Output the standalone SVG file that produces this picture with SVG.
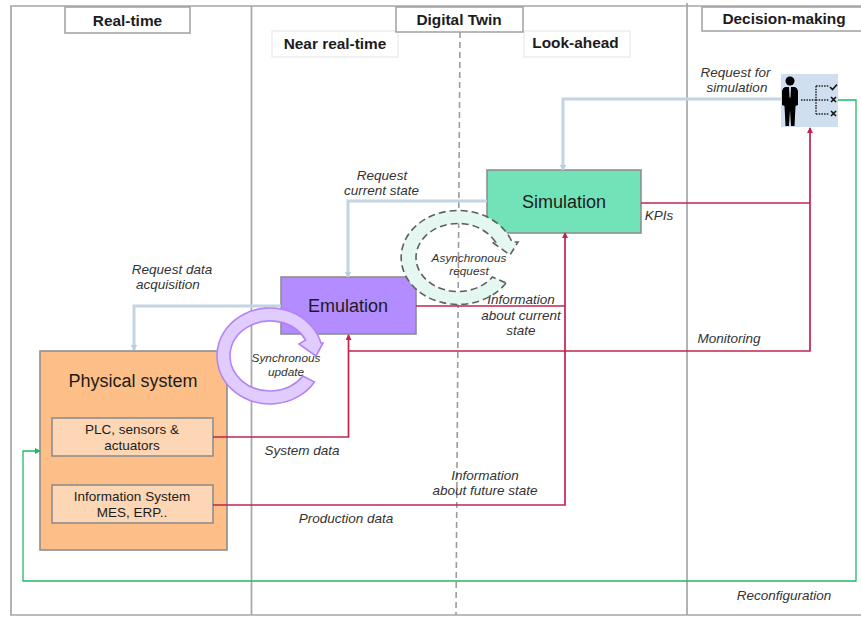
<svg xmlns="http://www.w3.org/2000/svg" width="861" height="617" viewBox="0 0 861 617">
<style>
text{font-family:"Liberation Sans",Arial,sans-serif;fill:#1c1c1c}
.h{font-size:15.4px;font-weight:bold;text-anchor:middle}
.lab{font-size:13.500px;font-style:italic;fill:#333;text-anchor:middle}
.sm{font-size:11.800px;font-style:italic;fill:#333;text-anchor:middle}
.big{font-size:18px;text-anchor:middle}
.mid{font-size:13.500px;text-anchor:middle}
.frame{stroke:#a6a6a6;stroke-width:1.7;fill:none}
.hb{fill:#fff;stroke:#a0a0a0;stroke-width:1.5}
.hl{fill:#fff;stroke:#e4e4e4;stroke-width:1}
.blue{fill:none;stroke:#c3d4e2;stroke-width:3}
.red{fill:none;stroke:#c0244f;stroke-width:1.7}
.grn{fill:none;stroke:#22b765;stroke-width:1.3}
.box{stroke:#8e8e8e;stroke-width:1.6}
</style>
<defs>
<marker id="ab" markerWidth="7" markerHeight="7" refX="5.500" refY="3.500" orient="auto" markerUnits="userSpaceOnUse"><path d="M0,0L6,3.500L0,7Z" fill="#b9cddd"/></marker>
<marker id="ar" markerWidth="7" markerHeight="7" refX="5" refY="3" orient="auto" markerUnits="userSpaceOnUse"><path d="M0,0L6,3L0,6Z" fill="#c0244f"/></marker>
<marker id="ag" markerWidth="7" markerHeight="7" refX="5" refY="3" orient="auto" markerUnits="userSpaceOnUse"><path d="M0,0L6,3L0,6Z" fill="#22b765"/></marker>
</defs>
<rect width="861" height="617" fill="#fff"/>
<g id="frame">
<path class="frame" d="M861,6H11V615H861"/>
<path class="frame" d="M251.500,6V615M687,3V615"/>
<path d="M460,32L456,615" fill="none" stroke="#9c9c9c" stroke-width="1.600" stroke-dasharray="6 4"/>
</g>
<g id="header-realtime"><rect class="hb" x="65" y="7" width="125" height="26"/><text class="h" x="127.500" y="26">Real-time</text></g>
<g id="header-near"><rect class="hl" x="272" y="31" width="126" height="26"/><text class="h" x="335" y="49">Near real-time</text></g>
<g id="header-look"><rect class="hl" x="524" y="31" width="106" height="26"/><text class="h" x="575.500" y="48">Look-ahead</text></g>
<g id="header-twin"><rect class="hb" x="396" y="7" width="127" height="25"/><text class="h" x="459" y="25">Digital Twin</text></g>
<g id="header-decision"><rect class="hb" x="702" y="7" width="160" height="24"/><text class="h" x="784" y="24">Decision-making</text></g>

<g id="simulation"><rect class="box" x="487" y="170" width="154" height="63" fill="#72e3b8"/><text class="big" x="564" y="208">Simulation</text></g>
<g id="emulation"><rect class="box" x="281" y="277" width="135" height="57" fill="#b38cff"/><text class="big" x="348" y="312">Emulation</text></g>
<g id="physical-system">
<rect class="box" x="40" y="351" width="187" height="199" fill="#fdbf87"/>
<text class="big" x="133" y="387">Physical system</text>
</g>
<g id="plc"><rect class="box" x="52" y="418" width="161" height="38" fill="#fdd7b5"/><text class="mid" x="132" y="434">PLC, sensors &amp;</text><text class="mid" x="132" y="450">actuators</text></g>
<g id="info-system"><rect class="box" x="52" y="485" width="161" height="38" fill="#fdd7b5"/><text class="mid" x="132" y="501">Information System</text><text class="mid" x="132" y="517">MES, ERP..</text></g>

<g id="connectors">
<path class="blue" marker-end="url(#ab)" d="M781,99H563V170"/>
<path class="blue" marker-end="url(#ab)" d="M487,201H348V277"/>
<path class="blue" marker-end="url(#ab)" d="M281,306H134V350"/>
<path class="red" d="M641,203H810"/>
<path class="red" marker-end="url(#ar)" d="M349,351H810V128"/>
<path class="red" marker-end="url(#ar)" d="M213,437H348.500V335"/>
<path class="red" d="M416,306H565"/>
<path class="red" marker-end="url(#ar)" d="M213,505H565V233"/>
<path class="grn" marker-end="url(#ag)" d="M835,100H856V581H23V451H40"/>
</g>

<g id="sync-update">
<path d="M314.500,382A53,48 0 1 1 321,343L323,343L316,356L299,344L305.600,340A40,35 0 1 0 302.800,376Z" fill="#e1ccff" stroke="#b483f5" stroke-width="1.600"/>
<text class="sm" x="286" y="362">Synchronous</text><text class="sm" x="286" y="376">update</text>
</g>
<g id="async-request">
<path d="M506,283A57,47 0 1 1 512,242L518,242L510,255L492,242L495.400,242A42,34 0 1 0 492.400,277Z" fill="#e4f7f1" stroke="#5f5f5f" stroke-width="1.600" stroke-dasharray="7 4"/>
<text class="sm" x="469" y="262">Asynchronous</text><text class="sm" x="469" y="275">request</text>
</g>

<g id="decision-icon">
<rect x="781" y="74" width="57" height="53" fill="#d0dfef"/>
<circle cx="790" cy="81" r="4.500" fill="#000"/>
<path d="M785,87H795Q797.500,88 798,91L798,105L795.500,106L794.500,126H791L790,110L789,126H785.500L784.500,106L782,105L782,91Q782.500,88 785,87Z" fill="#000"/>
<path d="M789,87H791L790.500,97L790,98L789.500,97Z" fill="#d0dfef"/>
<path d="M801,100H816M816,86V114M816,86H829M816,114H829M816,100H829" stroke="#222" stroke-width="1.500" stroke-dasharray="1.500 1.200" fill="none"/>
<path d="M830,87L832.500,89.500L837,84.500M831,97L836,102M836,97L831,102M831,111L836,116M836,111L831,116" stroke="#111" stroke-width="1.600" fill="none"/>
</g>

<g id="labels">
<text class="lab" x="172" y="274">Request data</text><text class="lab" x="168" y="289">acquisition</text>
<text class="lab" x="382" y="180">Request</text><text class="lab" x="381.500" y="195">current state</text>
<text class="lab" x="735.500" y="77">Request for</text><text class="lab" x="737" y="92">simulation</text>
<text class="lab" x="659" y="220">KPIs</text>
<text class="lab" x="521" y="304">Information</text><text class="lab" x="521" y="320">about current</text><text class="lab" x="521" y="335">state</text>
<text class="lab" x="729" y="343">Monitoring</text>
<text class="lab" x="302" y="455">System data</text>
<text class="lab" x="485" y="480">Information</text><text class="lab" x="485" y="495">about future state</text>
<text class="lab" x="346" y="523">Production data</text>
<text class="lab" x="784" y="600">Reconfiguration</text>
</g>
</svg>
